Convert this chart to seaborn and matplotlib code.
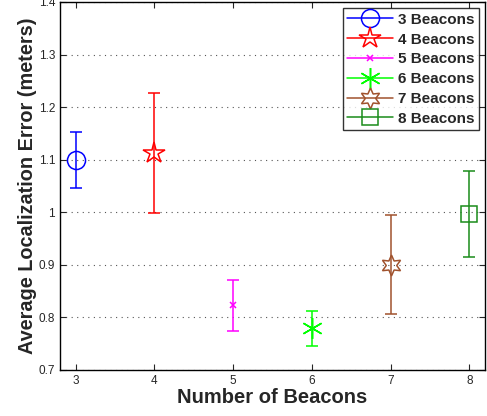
import matplotlib
matplotlib.use("Agg")
import matplotlib.pyplot as plt
from matplotlib.lines import Line2D
import seaborn as sns

# data
beacons = [3, 4, 5, 6, 7, 8]
mean_err = [1.100, 1.112, 0.823, 0.779, 0.900, 0.997]
std_err = [0.053, 0.114, 0.048, 0.034, 0.094, 0.082]
labels = ["3 Beacons", "4 Beacons", "5 Beacons", "6 Beacons", "7 Beacons", "8 Beacons"]
colors = ["#0000ff", "#ff0000", "#ff00ff", "#00ff00", "#a0522d", "#1a8c1a"]
markers = ["o", "*", "x", (6, 2, 0), (6, 1, 0), "s"]
msizes = [13, 16, 5, 15, 15, 11]

sns.set_style("ticks")
plt.rcParams["font.family"] = ["Liberation Sans", "DejaVu Sans"]

fig = plt.figure(figsize=(4.87, 4.16), dpi=100)
ax = fig.add_axes([60 / 487, 46 / 416, 425 / 487, 368 / 416])

handles = []
for b, m, s, lab, c, mk, ms in zip(beacons, mean_err, std_err, labels, colors, markers, msizes):
    ax.errorbar([b], [m], yerr=[s], color=c, marker=mk, markersize=ms,
                markerfacecolor="none", markeredgecolor=c, markeredgewidth=1.1,
                capsize=4, elinewidth=1.1, capthick=1.1, linewidth=1.1)
    handles.append(Line2D([], [], color=c, marker=mk, markersize=ms, markerfacecolor="none",
                          markeredgewidth=1.1, linewidth=1.1, label=lab))

ax.set_xlim(2.8, 8.2)
ax.set_ylim(0.7, 1.4)
ax.set_xticks(beacons)
ax.set_yticks([0.7, 0.8, 0.9, 1.0, 1.1, 1.2, 1.3, 1.4])
ax.set_yticklabels(["0.7", "0.8", "0.9", "1", "1.1", "1.2", "1.3", "1.4"])
ax.yaxis.grid(True, linestyle=(0, (1, 4)), color="#555555", linewidth=0.8)
ax.tick_params(direction="in", top=True, right=True, labelsize=8.5, length=4, width=0.8)
for sp in ax.spines.values():
    sp.set_linewidth(1.0)
    sp.set_color("black")

ax.set_xlabel("Number of Beacons", fontsize=14.5, fontweight="bold", labelpad=1)
ax.set_ylabel("Average Localization Error (meters)", fontsize=14.3, fontweight="bold", labelpad=1)

leg = ax.legend(handles=handles, loc="upper right", prop={"weight": "bold", "size": 11},
                frameon=True, fancybox=False, edgecolor="black", handlelength=3.0,
                borderpad=0.3, labelspacing=0.38, handletextpad=0.3, borderaxespad=0.4)
leg.get_frame().set_linewidth(1.0)

fig.savefig("out.png", dpi=100)
